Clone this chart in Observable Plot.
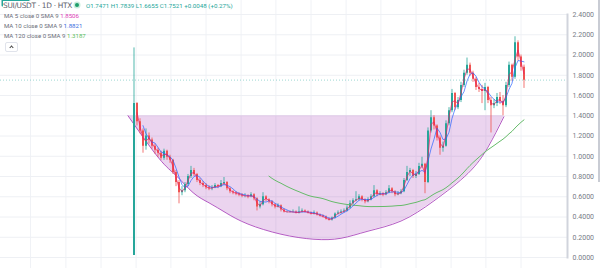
<!DOCTYPE html>
<html>
<head>
<meta charset="utf-8">
<script src="https://cdn.jsdelivr.net/npm/d3@7"></script>
<script src="https://cdn.jsdelivr.net/npm/@observablehq/plot@0.6"></script>
<style>
  html, body { margin: 0; padding: 0; background: #fff; }
  #wrap { position: relative; width: 600px; height: 268px; overflow: hidden; font-family: Roboto, "Liberation Sans", sans-serif; }
  #chart { position: absolute; left: 0; top: 0; }
  .hdr { position: absolute; left: 4px; white-space: nowrap; color: #6a6d78; font-size: 6.1px; line-height: 8px; }
  .title { position: absolute; left: 3px; top: 1px; padding-right: 1px; font-size: 7.4px; line-height: 10px; color: #5d606b; white-space: nowrap; background: #fff; font-family: "DejaVu Sans", sans-serif; letter-spacing: -0.3px; }
  .ohlc { position: absolute; left: 86px; top: 2px; font-size: 6.2px; line-height: 8px; color: #26a69a; white-space: nowrap; }
  .dot { position: absolute; left: 75px; top: 3px; width: 4px; height: 4px; border-radius: 50%; background: #1e9e6a; box-shadow: 0 0 0 1.5px #c8ecdb; }
  .btn { position: absolute; left: 5px; top: 42px; width: 11px; height: 8px; border: 1px solid #e0e3eb; border-radius: 2px; background: #fff; }
  .btn::after { content: ""; position: absolute; left: 4px; top: 3px; width: 2px; height: 2px; border-left: 1px solid #444; border-top: 1px solid #444; transform: rotate(45deg); }
  .scroll { position: absolute; left: 598px; top: 0; width: 2px; height: 182px; background: #c9ccd4; }
</style>
</head>
<body>
<div id="wrap">
  <div id="chart"></div>
  <div class="title">SUI/USDT · 1D · HTX</div>
  <div class="dot"></div>
  <div class="ohlc">O1.7471 H1.7839 L1.6655 C1.7521 +0.0048 (+0.27%)</div>
  <div class="hdr" style="top:12px">MA 5 close 0 SMA 9 <span style="color:#e040b8">1.8506</span></div>
  <div class="hdr" style="top:22px">MA 10 close 0 SMA 9 <span style="color:#3b6fe0">1.8821</span></div>
  <div class="hdr" style="top:32px">MA 120 close 0 SMA 9 <span style="color:#5cc05c">1.3187</span></div>
  <div class="btn"></div>
  <div class="scroll"></div>
</div>
<script>
// ---- data ----
const firstOpen = 0.02;
const closes = [
  1.52,1.34,1.25,1.10,1.20,1.16,1.10,1.06,1.03,0.98,
  1.05,0.99,0.96,0.84,0.74,0.64,0.66,0.72,0.80,0.86,
  0.82,0.76,0.73,0.71,0.69,0.68,0.69,0.71,0.70,0.73,
  0.74,0.68,0.65,0.64,0.63,0.62,0.61,0.61,0.60,0.62,
  0.58,0.50,0.52,0.60,0.57,0.55,0.52,0.50,0.51,0.47,
  0.45,0.45,0.45,0.45,0.44,0.45,0.46,0.45,0.44,0.43,
  0.44,0.42,0.41,0.40,0.38,0.37,0.39,0.43,0.44,0.45,
  0.46,0.49,0.53,0.56,0.57,0.60,0.57,0.55,0.57,0.60,
  0.66,0.62,0.63,0.62,0.64,0.68,0.65,0.62,0.63,0.65,
  0.76,0.84,0.86,0.80,0.82,0.90,0.92,0.74,1.25,1.38,
  1.30,1.18,1.08,1.10,1.32,1.45,1.62,1.48,1.55,1.70,
  1.82,1.90,1.82,1.76,1.68,1.66,1.64,1.68,1.55,1.50,
  1.52,1.58,1.54,1.50,1.70,1.90,1.78,2.12,1.98,1.88,
  1.75
];
const highs = [
  2.07,1.53,1.37,1.27,1.27,1.23,1.18,1.12,1.08,1.05,
  1.07,1.06,1.01,0.97,0.86,0.76,0.70,0.74,0.82,0.90,
  0.88,0.83,0.78,0.75,0.73,0.71,0.71,0.73,0.72,0.76,
  0.79,0.75,0.69,0.66,0.65,0.64,0.63,0.63,0.62,0.64,
  0.63,0.59,0.55,0.64,0.61,0.58,0.56,0.53,0.53,0.52,
  0.48,0.46,0.46,0.47,0.46,0.50,0.48,0.47,0.46,0.45,
  0.46,0.45,0.43,0.42,0.41,0.39,0.40,0.44,0.46,0.47,
  0.48,0.51,0.56,0.58,0.65,0.62,0.61,0.58,0.59,0.62,
  0.71,0.67,0.65,0.64,0.66,0.71,0.69,0.66,0.65,0.67,
  0.78,0.90,0.88,0.87,0.85,0.93,0.99,0.93,1.28,1.45,
  1.40,1.31,1.20,1.14,1.35,1.48,1.66,1.63,1.58,1.73,
  1.85,1.97,1.92,1.84,1.78,1.72,1.70,1.72,1.69,1.58,
  1.56,1.62,1.63,1.60,1.73,1.93,1.91,2.18,2.14,2.00,
  1.90
];
const lows = [
  0.02,1.30,1.22,1.03,1.06,1.12,1.07,1.02,0.99,0.96,
  0.96,0.96,0.93,0.82,0.70,0.53,0.61,0.64,0.70,0.78,
  0.80,0.74,0.71,0.69,0.67,0.66,0.66,0.68,0.68,0.69,
  0.71,0.66,0.63,0.62,0.61,0.60,0.59,0.59,0.58,0.59,
  0.56,0.46,0.48,0.51,0.55,0.53,0.50,0.48,0.49,0.45,
  0.44,0.44,0.44,0.44,0.43,0.43,0.44,0.44,0.43,0.42,
  0.42,0.41,0.40,0.39,0.37,0.36,0.36,0.38,0.42,0.43,
  0.44,0.45,0.48,0.52,0.55,0.56,0.55,0.53,0.54,0.56,
  0.59,0.60,0.61,0.60,0.61,0.63,0.63,0.60,0.61,0.62,
  0.64,0.75,0.80,0.78,0.78,0.81,0.88,0.63,0.73,1.23,
  1.26,1.15,1.01,1.04,1.09,1.30,1.43,1.45,1.46,1.53,
  1.68,1.80,1.79,1.73,1.65,1.63,1.52,1.45,1.52,1.23,
  1.47,1.49,1.51,1.40,1.48,1.68,1.74,1.76,1.94,1.84,
  1.67
];
const lastPrice = 1.7521;
// cup drawing (candle index, price)
const cupIdx   = [-2, 8.3, 14, 19.7, 25, 30.7, 38, 49, 60, 69, 78, 89, 100, 111.3, 118, 123.3];
const cupPrice = [1.40, 0.98, 0.81, 0.64, 0.54, 0.44, 0.33, 0.23, 0.18, 0.19, 0.26, 0.36, 0.56, 0.83, 1.09, 1.39];
const cupTop = 1.40;
const yTicks = [0, 0.2, 0.4, 0.6, 0.8, 1.0, 1.2, 1.4, 1.6, 1.8, 2.0, 2.2, 2.4];
const gridIdx = [-34.5, -22.7, -11, 0.7, 12.3, 24, 35.7, 47.3, 59, 70.7, 82.3, 94, 105.7, 117.3, 129];
const maK = {ma5: 2, ma10: 4, ma120: 46};

// ---- build tables ----
const candles = closes.map((c, i) => ({
  i, close: c, open: i === 0 ? firstOpen : closes[i - 1], high: highs[i], low: lows[i]
}));
const cup = cupIdx.map((x, k) => ({i: x, p: cupPrice[k]}));
const up = "#26a69a", down = "#ef5350";
const col = d => d.close >= d.open ? up : down;

const plot = Plot.plot({
  width: 600, height: 268,
  marginLeft: 0, marginRight: 33, marginTop: 14, marginBottom: 11,
  x: {domain: [-44.5, 144.5], axis: null, label: null},
  y: {domain: [0, 2.4], label: null},
  style: {fontFamily: "Roboto, sans-serif", background: "transparent"},
  marks: [
    Plot.ruleX(gridIdx, {stroke: "#f0f2f6", strokeWidth: 1, y1: 2.538, y2: -0.11}),
    Plot.ruleY(yTicks, {stroke: "#eef0f4", strokeWidth: 1}),
    Plot.areaY(cup, {x: "i", y1: cupTop, y2: "p", curve: "natural", fill: "#9c27b0", fillOpacity: 0.2}),
    Plot.line(cup, {x: "i", y: "p", curve: "natural", stroke: "#9c27b0", strokeOpacity: 0.75, strokeWidth: 1}),
    Plot.ruleY([lastPrice], {stroke: "#26a69a", strokeOpacity: 0.45, strokeDasharray: "1,2"}),
    Plot.ruleX(candles, {x: "i", y1: "low", y2: "high", stroke: col, strokeWidth: 1, strokeOpacity: 0.8}),
    Plot.ruleX(candles, {x: "i", y1: "open", y2: "close", stroke: col, strokeWidth: 2}),
    Plot.lineY(candles, Plot.windowY({k: maK.ma120, reduce: "mean", anchor: "end", strict: true}, {x: "i", y: "close", stroke: "#66bb6a", strokeWidth: 1})),
    Plot.lineY(candles, Plot.windowY({k: maK.ma10, reduce: "mean", anchor: "end", strict: true}, {x: "i", y: "close", stroke: "#2962ff", strokeOpacity: 0.7, strokeWidth: 1})),
    Plot.lineY(candles, Plot.windowY({k: maK.ma5, reduce: "mean", anchor: "end", strict: true}, {x: "i", y: "close", stroke: "#e91e63", strokeOpacity: 0.7, strokeWidth: 1})),
    Plot.frame({anchor: "right", stroke: "#d1d4dc", strokeWidth: 2}),
    Plot.axisY(yTicks, {anchor: "right", label: null, tickSize: 0, tickPadding: 5, fontSize: 7, fill: "#787b86", tickFormat: d => d.toFixed(4)}),
    Plot.text([lastPrice], {y: d => d, frameAnchor: "right", dx: 5, dy: 1, textAnchor: "start", text: d => d.toFixed(4), fill: "white", fontSize: 6.5, className: "price-label"})
  ]
});
document.getElementById("chart").appendChild(plot);

// green background box behind the last-price label
const lbl = plot.querySelector("g.price-label text");
if (lbl) {
  const bb = lbl.getBBox();
  const r = document.createElementNS("http://www.w3.org/2000/svg", "rect");
  r.setAttribute("x", bb.x - 4);
  r.setAttribute("y", bb.y - 1);
  r.setAttribute("width", bb.width + 8);
  r.setAttribute("height", bb.height + 2);
  r.setAttribute("fill", "#26a69a");
  r.setAttribute("rx", 1);
  lbl.parentNode.insertBefore(r, lbl);
}
</script>
</body>
</html>
